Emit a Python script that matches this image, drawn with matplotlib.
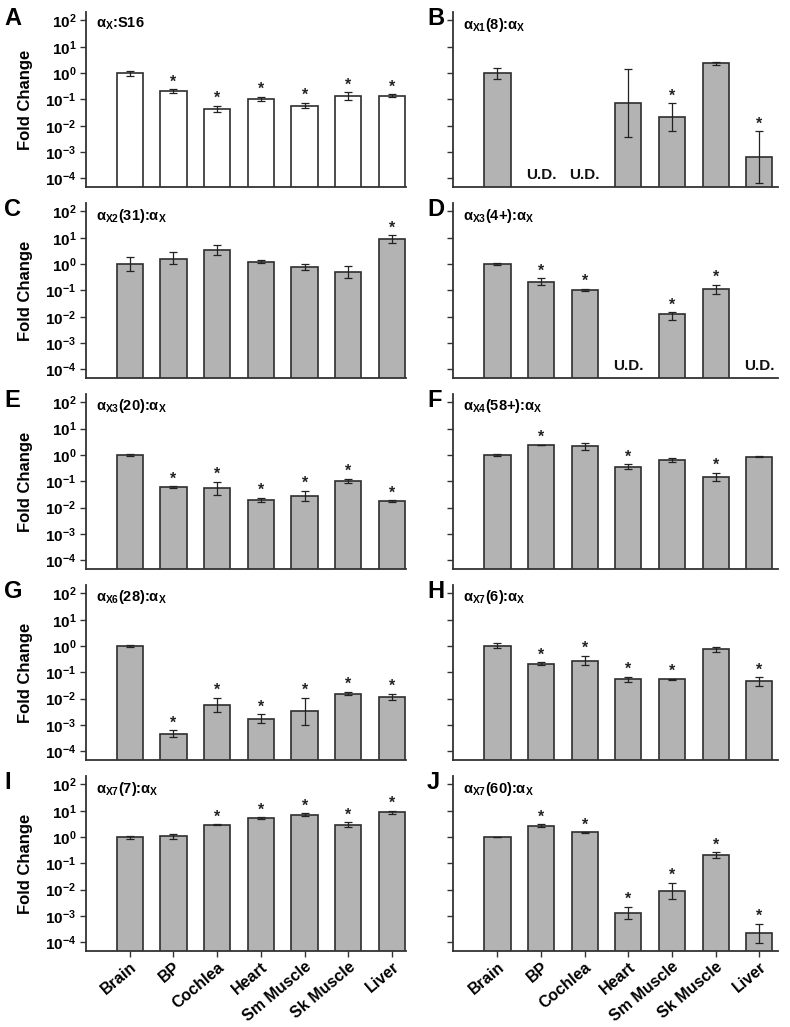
import numpy as np
import matplotlib
matplotlib.use("Agg")
import matplotlib.pyplot as plt

plt.rcParams['font.family'] = ['Liberation Sans', 'DejaVu Sans']
plt.rcParams['font.weight'] = 'bold'
plt.rcParams['mathtext.fontset'] = 'custom'
plt.rcParams['mathtext.rm'] = 'Liberation Sans'
plt.rcParams['mathtext.it'] = 'Liberation Sans:italic'
plt.rcParams['mathtext.bf'] = 'Liberation Sans:bold'

nan = np.nan
tissues = ['Brain', 'BP', 'Cochlea', 'Heart', 'Sm Muscle', 'Sk Muscle', 'Liver']
tick_vals = [1e-4, 1e-3, 1e-2, 1e-1, 1e0, 1e1, 1e2]
tick_labels = [r'$\mathbf{10^{-4}}$', r'$\mathbf{10^{-3}}$', r'$\mathbf{10^{-2}}$',
               r'$\mathbf{10^{-1}}$', r'$\mathbf{10^{0}}$', r'$\mathbf{10^{1}}$',
               r'$\mathbf{10^{2}}$']
panel_letters = ['A', 'B', 'C', 'D', 'E', 'F', 'G', 'H', 'I', 'J']
panel_titles = [
    r'$\mathrm{\alpha_{X}}$:S16',
    r'$\mathrm{\alpha}_{\mathbf{X1}}$(8):$\mathrm{\alpha_{X}}$',
    r'$\mathrm{\alpha}_{\mathbf{X2}}$(31):$\mathrm{\alpha_{X}}$',
    r'$\mathrm{\alpha}_{\mathbf{X3}}$(4+):$\mathrm{\alpha_{X}}$',
    r'$\mathrm{\alpha}_{\mathbf{X3}}$(20):$\mathrm{\alpha_{X}}$',
    r'$\mathrm{\alpha}_{\mathbf{X4}}$(58+):$\mathrm{\alpha_{X}}$',
    r'$\mathrm{\alpha}_{\mathbf{X6}}$(28):$\mathrm{\alpha_{X}}$',
    r'$\mathrm{\alpha}_{\mathbf{X7}}$(6):$\mathrm{\alpha_{X}}$',
    r'$\mathrm{\alpha}_{\mathbf{X7}}$(7):$\mathrm{\alpha_{X}}$',
    r'$\mathrm{\alpha}_{\mathbf{X7}}$(60):$\mathrm{\alpha_{X}}$',
]

A_val = [1.0, 0.21, 0.045, 0.103, 0.058, 0.134, 0.138]
A_lo = [0.80, 0.174, 0.032, 0.084, 0.046, 0.098, 0.12]
A_hi = [1.25, 0.245, 0.058, 0.123, 0.075, 0.186, 0.155]
A_sig = [0, 1, 1, 1, 1, 1, 1]

B_val = [1.0, nan, nan, 0.075, 0.021, 2.34, 0.00063]
B_lo = [0.58, nan, nan, 0.0037, 0.0061, 2.0, 6.6e-5]
B_hi = [1.55, nan, nan, 1.38, 0.071, 2.7, 0.0061]
B_sig = [0, 0, 0, 0, 1, 0, 1]

C_val = [1.0, 1.58, 3.47, 1.22, 0.77, 0.50, 8.8]
C_lo = [0.56, 1.0, 2.18, 1.06, 0.61, 0.30, 6.6]
C_hi = [1.8, 2.76, 5.3, 1.45, 0.97, 0.82, 12.4]
C_sig = [0, 0, 0, 0, 0, 0, 1]

D_val = [1.0, 0.215, 0.104, nan, 0.0122, 0.114, nan]
D_lo = [0.93, 0.156, 0.094, nan, 0.0075, 0.074, nan]
D_hi = [1.07, 0.286, 0.114, nan, 0.015, 0.166, nan]
D_sig = [0, 1, 1, 0, 1, 1, 0]

E_val = [1.0, 0.061, 0.054, 0.0203, 0.028, 0.106, 0.0175]
E_lo = [0.95, 0.058, 0.030, 0.017, 0.0186, 0.087, 0.0157]
E_hi = [1.05, 0.064, 0.095, 0.0234, 0.044, 0.123, 0.019]
E_sig = [0, 1, 1, 1, 1, 1, 1]

F_val = [1.0, 2.35, 2.13, 0.353, 0.66, 0.143, 0.86]
F_lo = [0.92, 2.3, 1.59, 0.295, 0.56, 0.104, 0.84]
F_hi = [1.08, 2.4, 2.77, 0.44, 0.76, 0.213, 0.88]
F_sig = [0, 1, 0, 1, 0, 1, 0]

G_val = [1.0, 4.7e-4, 0.0055, 0.0017, 0.0034, 0.0156, 0.012]
G_lo = [0.93, 3.5e-4, 0.003, 0.00118, 0.001, 0.0135, 0.0087]
G_hi = [1.07, 6.4e-4, 0.011, 0.0026, 0.0107, 0.018, 0.0156]
G_sig = [0, 1, 1, 1, 1, 1, 1]

H_val = [1.0, 0.214, 0.28, 0.056, 0.055, 0.74, 0.049]
H_lo = [0.81, 0.19, 0.19, 0.044, 0.052, 0.61, 0.031]
H_hi = [1.3, 0.24, 0.43, 0.069, 0.058, 0.88, 0.066]
H_sig = [0, 1, 1, 1, 1, 0, 1]

I_val = [1.0, 1.06, 2.95, 5.25, 7.06, 2.95, 8.7]
I_lo = [0.84, 0.87, 2.8, 4.9, 6.1, 2.33, 7.6]
I_hi = [1.13, 1.26, 3.1, 5.6, 7.9, 3.7, 10.0]
I_sig = [0, 0, 1, 1, 1, 1, 1]

J_val = [1.0, 2.68, 1.5, 0.00125, 0.0093, 0.203, 2.2e-4]
J_lo = [0.97, 2.33, 1.46, 0.0008, 0.0044, 0.157, 9.5e-5]
J_hi = [1.03, 3.1, 1.54, 0.0022, 0.0186, 0.263, 5e-4]
J_sig = [0, 1, 1, 1, 1, 1, 1]

panels = [
    (A_val, A_lo, A_hi, A_sig),
    (B_val, B_lo, B_hi, B_sig),
    (C_val, C_lo, C_hi, C_sig),
    (D_val, D_lo, D_hi, D_sig),
    (E_val, E_lo, E_hi, E_sig),
    (F_val, F_lo, F_hi, F_sig),
    (G_val, G_lo, G_hi, G_sig),
    (H_val, H_lo, H_hi, H_sig),
    (I_val, I_lo, I_hi, I_sig),
    (J_val, J_lo, J_hi, J_sig),
]

W, H = 790, 1027
fig = plt.figure(figsize=(W / 100, H / 100), dpi=100)

row_bottoms = [0.8179, 0.6319, 0.4460, 0.2600, 0.0740]
ax_h = 0.1704
col_left = [86 / W, 453 / W]
col_w = [320 / W, 325 / W]
col_xlim = [(-1.0, 6.32), (-1.02, 6.43)]
ylim = (10 ** -4.33, 10 ** 2.32)
spine_c = '#333333'
bar_c = '#b3b3b3'

for i, (val, lo, hi, sig) in enumerate(panels):
    r, c = divmod(i, 2)
    ax = fig.add_axes([col_left[c], row_bottoms[r], col_w[c], ax_h])
    ax.set_yscale('log')
    ax.set_ylim(*ylim)
    ax.set_xlim(*col_xlim[c])
    x = np.arange(len(tissues))
    val = np.array(val, dtype=float)
    lo = np.array(lo, dtype=float)
    hi = np.array(hi, dtype=float)
    ok = ~np.isnan(val)
    fc = 'white' if i == 0 else bar_c
    ax.bar(x[ok], val[ok] - 1e-6, bottom=1e-6, width=0.6, color=fc,
           edgecolor='#2e2e2e', linewidth=1.2, zorder=2)
    ax.errorbar(x[ok], val[ok], yerr=[val[ok] - lo[ok], hi[ok] - val[ok]],
                fmt='none', ecolor='#222222', elinewidth=0.9, capsize=2.8,
                capthick=0.9, zorder=3)
    for xi in x:
        if np.isnan(val[xi]):
            ax.text(xi, 1.35e-4, 'U.D.', ha='center', va='center',
                    fontsize=11, fontweight='bold', color='#111111')
        elif sig[xi]:
            ax.annotate('*', (xi, hi[xi]), xytext=(0, 2.0),
                        textcoords='offset points', ha='center', va='baseline',
                        fontsize=11.5, fontweight='bold', color='#222222')
    for s in ['top', 'right']:
        ax.spines[s].set_visible(False)
    for s in ['left', 'bottom']:
        ax.spines[s].set_color(spine_c)
        ax.spines[s].set_linewidth(1.3)
    ax.set_yticks(tick_vals)
    ax.yaxis.set_minor_locator(matplotlib.ticker.NullLocator())
    ax.tick_params(axis='y', direction='out', length=4, width=1, color=spine_c, pad=3)
    if c == 0:
        ax.set_yticklabels(tick_labels, fontsize=11)
        ax.set_ylabel('Fold Change', fontsize=12, fontweight='bold')
        ax.yaxis.set_label_coords(-0.165, 0.5)
    else:
        ax.set_yticklabels([])
    ax.set_xticks(x)
    if r == 4:
        ax.tick_params(axis='x', direction='out', length=4, width=1, color=spine_c, pad=2)
        ax.set_xticklabels(tissues, rotation=40, ha='right', rotation_mode='anchor',
                           fontsize=11.5, fontweight='bold')
    else:
        ax.tick_params(axis='x', length=0)
        ax.set_xticklabels([])
    ax.text(0.03, 0.98, panel_titles[i], transform=ax.transAxes, ha='left', va='top',
            fontsize=10.5, fontweight='bold')
    lx = -0.255 if c == 0 else -0.08
    ax.text(lx, 0.963, panel_letters[i], transform=ax.transAxes, ha='left', va='center',
            fontsize=17, fontweight='bold')

fig.savefig('out.png', dpi=100)
